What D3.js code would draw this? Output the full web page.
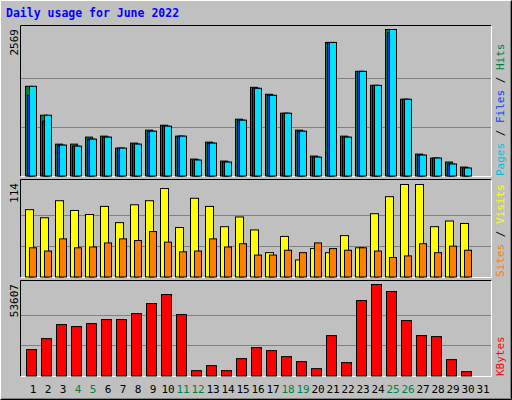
<!DOCTYPE html><html><head><meta charset="utf-8">
<script src="https://cdn.jsdelivr.net/npm/d3@7"></script>
<style>body{margin:0;background:#fff}</style></head><body>
<script>
const days = d3.range(1,32);
const weekend = [4,5,11,12,18,19,25,26];
const hits  = [1573,1066,559,559,682,699,489,577,804,891,699,297,594,262,996,1555,1433,1101,804,350,2342,699,1835,1590,2569,1346,384,314,245,157,0];
const files = [1415,961,542,524,647,682,489,559,786,874,699,280,577,245,979,1538,1415,1101,786,332,2342,682,1835,1590,2516,1346,367,315,210,140,0];
const pages = [1573,1066,542,524,647,682,489,559,786,874,699,280,577,245,979,1538,1415,1101,786,332,2342,682,1835,1590,2569,1346,367,315,210,140,0];
const visits = [83,73,94,82,77,87,67,89,94,109,61,97,87,62,74,58,30,50,21,35,30,51,36,78,99,114,114,62,69,66,0];
const sites  = [36,32,47,36,37,42,47,45,56,43,31,32,47,37,41,27,27,33,30,42,35,33,36,32,24,26,41,30,38,33,0];
const kbytes = [15452,21907,30122,28949,30709,33056,33056,36577,42445,47726,35990,3130,6064,3130,10171,16626,14866,11345,8411,4303,23668,7824,44206,53607,49487,32470,23668,23081,9584,2543,0];

const W=512,H=400,font="'DejaVu Sans Mono',monospace";
const svg=d3.select("body").append("svg").attr("width",W).attr("height",H);
svg.append("rect").attr("width",W).attr("height",H).attr("fill","#c0c0c0");
// outer bevel
svg.append("path").attr("d",`M0.5,${H-0.5}V0.5H${W-0.5}`).attr("stroke","#fff").attr("fill","none");
svg.append("path").attr("d",`M0.5,${H-0.5}H${W-0.5}V0.5`).attr("stroke","#000").attr("fill","none");
svg.append("path").attr("d",`M1.5,${H-1.5}H${W-1.5}V1.5`).attr("stroke","#808080").attr("fill","none");
svg.append("text").attr("x",6).attr("y",17).attr("font-family",font).attr("font-weight","bold").attr("font-size",11.5).attr("fill","#0000ff").text("Daily usage for June 2022");

const x=d3.scaleLinear().domain([1,32]).range([25,490]);

function panel(y0,y1,top,maxv,maxLabel,labels){
  svg.append("rect").attr("x",20).attr("y",y0).attr("width",471).attr("height",y1-y0).attr("fill","#c0c0c0");
  svg.append("path").attr("d",`M20.5,${y1+0.5}V${y0+0.5}H491.5`).attr("stroke","#000").attr("fill","none");
  svg.append("path").attr("d",`M20.5,${y1+0.5}H491.5V${y0+0.5}`).attr("stroke","#fff").attr("fill","none");
  const y=d3.scaleLinear().domain([0,maxv]).range([y1-0.5,top]);
  [1/3,2/3].forEach(f=>{const gy=Math.round(y1-(y1-top)*f)+0.5;
    svg.append("line").attr("x1",21).attr("x2",491).attr("y1",gy).attr("y2",gy).attr("stroke","#808080");});
  svg.append("text").attr("transform",`translate(18,${y0+4}) rotate(-90)`).attr("text-anchor","end")
    .attr("font-family",font).attr("font-size",11).attr("fill","#000").text(maxLabel);
  const t=svg.append("text").attr("transform",`translate(504,${y1}) rotate(-90)`).attr("font-family",font).attr("font-size",11);
  labels.forEach((l,i)=>{ if(i) t.append("tspan").attr("fill","#000").text(" / "); t.append("tspan").attr("fill",l[1]).text(l[0]);});
  return y;
}
function bars(y,data,dx,w,fill){
  svg.append("g").selectAll("rect").data(data).join("rect")
   .filter(d=>d>0)
   .attr("x",(d,i)=>x(i+1)+dx+0.5).attr("width",w).attr("y",d=>y(d)+0.5).attr("height",d=>y(0)-y(d))
   .attr("fill",fill).attr("stroke","#000");
}
// top
let y=panel(25,176,29,2569,"2569",[["Pages","#00c0e0"],["Files","#0040ff"],["Hits","#008040"]]);
bars(y,hits,0,7,"#008040"); bars(y,files,2,7,"#0040ff"); bars(y,pages,4,7,"#00e0ff");
// middle
y=panel(179,277,184,114,"114",[["Sites","#ff8000"],["Visits","#ffff00"]]);
bars(y,visits,0,8,"#ffff00"); bars(y,sites,4,7,"#ff8000");
// bottom
y=panel(280,376,284,53607,"53607",[["KBytes","#ff0000"]]);
bars(y,kbytes,1,10,"#ff0000");

svg.append("g").selectAll("text").data(days).join("text")
 .attr("x",d=>x(d)+8).attr("y",393).attr("text-anchor","middle").attr("font-family",font).attr("font-size",11)
 .attr("fill",d=>weekend.includes(d)?"#008040":"#000").text(d=>d);
</script></body></html>
